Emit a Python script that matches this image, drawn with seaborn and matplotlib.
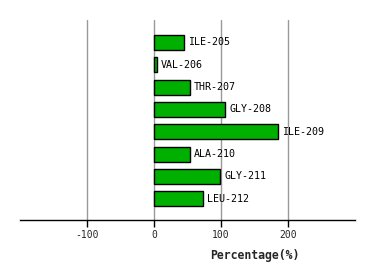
import matplotlib
matplotlib.use("Agg")
import matplotlib.pyplot as plt
import seaborn as sns
import pandas as pd

residues = ["ILE-205", "VAL-206", "THR-207", "GLY-208", "ILE-209", "ALA-210", "GLY-211", "LEU-212"]
percentages = [44.5, 4, 53.5, 106, 185.5, 53.5, 98.5, 73]
xticks = [-100, 0, 100, 200]

df = pd.DataFrame({"residue": residues, "pct": percentages})

sns.set_style("white")
plt.rcParams["font.family"] = ["DejaVu Sans Mono", "DejaVu Sans"]

fig = plt.figure(figsize=(3.74, 2.8), dpi=100)
ax = fig.add_axes([20/374, 60/280, 335/374, 200/280])

for x in xticks:
    ax.axvline(x, color="#999999", linewidth=1, zorder=0)

sns.barplot(data=df, x="pct", y="residue", orient="h", color="#00b000",
            edgecolor="black", linewidth=1, width=0.67, saturation=1, ax=ax, zorder=2)

for i, (r, v) in enumerate(zip(residues, percentages)):
    ax.text(v + 6, i, r, va="center", ha="left", fontsize=7.2, color="black", zorder=3)

ax.set_xlim(-200, 300)
ax.set_ylim(7.95, -1.0)
ax.set_xticks(xticks)
ax.set_xticklabels([str(t) for t in xticks], fontsize=7)
ax.set_yticks([])
ax.set_ylabel("")
ax.set_xlabel("Percentage(%)", fontsize=8.3, fontweight="bold")
ax.xaxis.set_label_coords(0.70, -0.145)
for s in ["top", "right", "left"]:
    ax.spines[s].set_visible(False)
ax.spines["bottom"].set_color("black")
ax.spines["bottom"].set_linewidth(1)
ax.tick_params(axis="x", length=5, width=1, color="black", pad=2, bottom=True)

fig.savefig("out.png", dpi=100)
